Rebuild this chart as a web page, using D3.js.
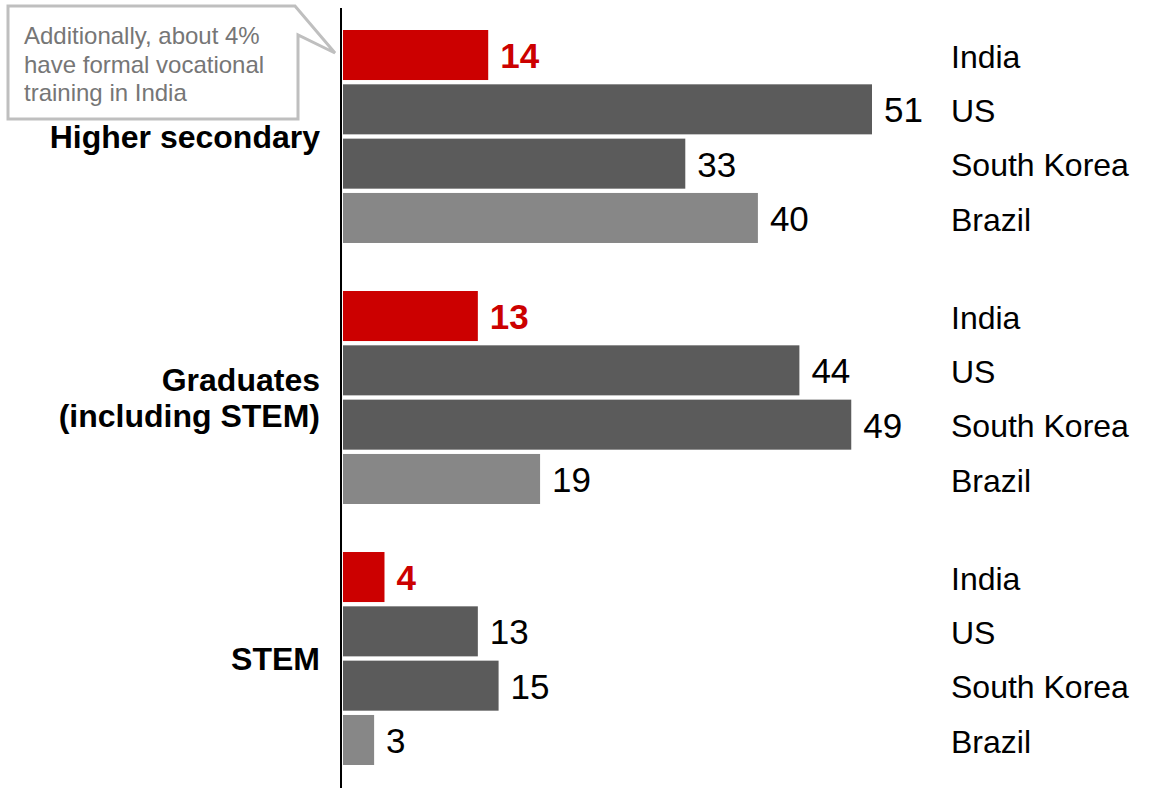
<!DOCTYPE html>
<html><head><meta charset="utf-8">
<script src="https://cdn.jsdelivr.net/npm/d3@7"></script>
<style>body{margin:0;background:#fff;}svg{display:block;font-family:"Liberation Sans",Arial,sans-serif;}</style>
</head><body>
<svg id="c" width="1155" height="788"></svg>
<script>
const groups = ["Higher secondary", "Graduates\n(including STEM)", "STEM"];
const countries = ["India", "US", "South Korea", "Brazil"];
const higherSecondary = [14, 51, 33, 40];
const graduates = [13, 44, 49, 19];
const stem = [4, 13, 15, 3];
const seriesValues = [higherSecondary, graduates, stem];
const calloutLines = ["Additionally, about 4%", "have formal vocational", "training in India"];

const colors = {"India": "#cc0000", "US": "#5b5b5b", "South Korea": "#5b5b5b", "Brazil": "#878787"};

const svg = d3.select("#c");
const x = d3.scaleLinear().domain([0, 51]).range([343, 872]);
const yOuter = d3.scaleBand().domain(groups).range([30, 765]).paddingInner(0.184).paddingOuter(0);
const yInner = d3.scaleBand().domain(countries).range([0, yOuter.bandwidth()]).paddingInner(0.079).paddingOuter(0);

const data = [];
groups.forEach((g, gi) => countries.forEach((c, ci) => data.push({g, c, v: seriesValues[gi][ci]})));

svg.selectAll("rect.bar").data(data).join("rect")
  .attr("class", "bar")
  .attr("x", x(0))
  .attr("y", d => yOuter(d.g) + yInner(d.c))
  .attr("width", d => x(d.v) - x(0))
  .attr("height", yInner.bandwidth())
  .attr("fill", d => colors[d.c]);

svg.selectAll("text.val").data(data).join("text")
  .attr("class", "val")
  .attr("x", d => x(d.v) + 12)
  .attr("y", d => yOuter(d.g) + yInner(d.c) + yInner.bandwidth() / 2)
  .attr("dy", "0.37em")
  .attr("font-size", 35)
  .attr("font-weight", d => d.c === "India" ? "bold" : "normal")
  .attr("fill", d => d.c === "India" ? "#cc0000" : "#000")
  .text(d => d.v);

svg.selectAll("text.country").data(data).join("text")
  .attr("class", "country")
  .attr("x", 951)
  .attr("y", d => yOuter(d.g) + yInner(d.c) + yInner.bandwidth() / 2)
  .attr("dy", "0.4em")
  .attr("font-size", 32)
  .attr("fill", "#000")
  .text(d => d.c);

// axis line
svg.append("line").attr("x1", 341).attr("x2", 341).attr("y1", 8).attr("y2", 788)
  .attr("stroke", "#000").attr("stroke-width", 2);

// group labels
groups.forEach(g => {
  const lines = g.split("\n");
  const cy = yOuter(g) + yOuter.bandwidth() / 2;
  const lh = 36;
  const t = svg.append("text").attr("x", 320).attr("text-anchor", "end")
    .attr("font-size", 32).attr("font-weight", "bold").attr("fill", "#000");
  lines.forEach((l, i) => {
    t.append("tspan").attr("x", 320)
      .attr("y", cy + (i - (lines.length - 1) / 2) * lh)
      .attr("dy", "0.36em").text(l);
  });
});

// callout
svg.append("path")
  .attr("d", "M8,6 H295 L335,53 L298,35 V119 H8 Z")
  .attr("fill", "#fff").attr("stroke", "#bfbfbf").attr("stroke-width", 3)
  .attr("stroke-linejoin", "miter");
const ct = svg.append("text").attr("font-size", 24).attr("fill", "#767676");
calloutLines.forEach((l, i) => ct.append("tspan").attr("x", 24).attr("y", 44 + i * 28.5).text(l));
</script>
</body></html>
